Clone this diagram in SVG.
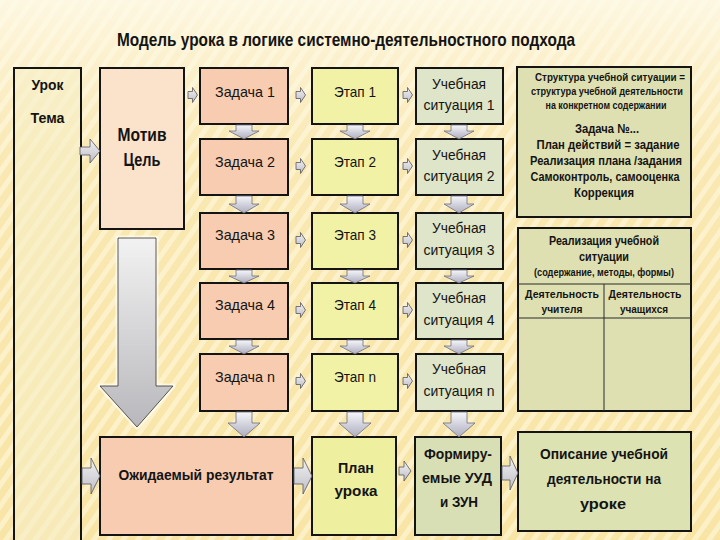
<svg xmlns="http://www.w3.org/2000/svg" width="720" height="540" viewBox="0 0 720 540">
<defs>
  <linearGradient id="bg" x1="0" y1="0" x2="0" y2="1">
    <stop offset="0" stop-color="#fdf7e2"/>
    <stop offset="0.1" stop-color="#fcf1cf"/>
    <stop offset="0.3" stop-color="#f9e8b2"/>
    <stop offset="1" stop-color="#f8e5a6"/>
  </linearGradient>
  <pattern id="stripes" patternUnits="userSpaceOnUse" width="12" height="12" patternTransform="rotate(35)">
    <rect x="0" y="0" width="5" height="12" fill="#fffbe8" opacity="0.5"/>
  </pattern>
  <linearGradient id="arrV" x1="0" y1="0" x2="0" y2="1">
    <stop offset="0" stop-color="#f6f6fb"/>
    <stop offset="1" stop-color="#aeaebf"/>
  </linearGradient>
  <linearGradient id="arrH" x1="0" y1="0" x2="0" y2="1">
    <stop offset="0" stop-color="#f4f4f4"/>
    <stop offset="1" stop-color="#bcbcc6"/>
  </linearGradient>
  <linearGradient id="bigArr" x1="0" y1="0" x2="0" y2="1">
    <stop offset="0" stop-color="#f2f2f2"/>
    <stop offset="1" stop-color="#b8b8bc"/>
  </linearGradient>
  <path id="ra" d="M0,-3.5 H4.5 V-7.5 L9.5,0 L4.5,7.5 V3.5 H0 Z"/>
  <style>
    .box{stroke:#141414;stroke-width:2}
    .uro{fill:#f6eec6;fill-opacity:0.55}
    .mot{fill:#fbe2cb}
    .zad{fill:#f8ccb0}
    .eta{fill:#f1f2a6}
    .uch{fill:#dfe5c8}
    .rgt{fill:#dfe0b2}
    .pln{fill:#eef0a0}
    .frm{fill:#d9dfb4}
    .ops{fill:#dde2b3}
    .ln{stroke:#2a2a2a;stroke-width:1;fill:none}
    .dn{fill:url(#arrV);stroke:#6e6e78;stroke-width:0.8}
    .rt{fill:url(#arrH);stroke:#55555e;stroke-width:0.8}
    .big{fill:url(#bigArr);stroke:#333;stroke-width:0.8}
    .glow{fill:none;stroke:#fffdf2;stroke-width:5;stroke-opacity:0.7;stroke-linejoin:round}
    text{font-family:"Liberation Sans","DejaVu Sans",sans-serif;fill:#141414;text-anchor:middle}
    .b{font-weight:bold}
    .ttl{font-size:18.5px;font-weight:bold}
    .c{font-size:15px}
    .s{font-size:10.5px;font-weight:bold}
    .m{font-size:13px;font-weight:bold}
    .l{font-size:15px;font-weight:bold}
  </style>
</defs>

<rect x="0" y="0" width="720" height="540" fill="url(#bg)"/>
<rect x="0" y="0" width="720" height="540" fill="url(#stripes)"/>

<text class="ttl" x="346" y="46" textLength="458" lengthAdjust="spacingAndGlyphs">Модель урока  в логике системно-деятельностного подхода</text>

<g id="urok">
  <rect class="box uro" x="14" y="68" width="67" height="480"/>
  <text class="l" x="47.5" y="90" textLength="32" lengthAdjust="spacingAndGlyphs">Урок</text>
  <text class="l" x="47.5" y="123" textLength="34" lengthAdjust="spacingAndGlyphs">Тема</text>
</g>

<g id="motiv">
  <rect class="box mot" x="100" y="68" width="84" height="161"/>
  <text class="b" style="font-size:18px" x="142" y="141" textLength="49" lengthAdjust="spacingAndGlyphs">Мотив</text>
  <text class="b" style="font-size:18px" x="142" y="166" textLength="37" lengthAdjust="spacingAndGlyphs">Цель</text>
</g>

<g id="zadachi">
  <g id="zad1"><rect class="box zad" x="200" y="68" width="88" height="56"/><text class="c" x="245" y="97" textLength="60" lengthAdjust="spacingAndGlyphs">Задача 1</text></g>
  <g id="zad2"><rect class="box zad" x="200" y="139" width="88" height="56"/><text class="c" x="245" y="167" textLength="60" lengthAdjust="spacingAndGlyphs">Задача 2</text></g>
  <g id="zad3"><rect class="box zad" x="200" y="213" width="88" height="56"/><text class="c" x="245" y="240" textLength="60" lengthAdjust="spacingAndGlyphs">Задача 3</text></g>
  <g id="zad4"><rect class="box zad" x="200" y="283" width="88" height="56"/><text class="c" x="245" y="310" textLength="60" lengthAdjust="spacingAndGlyphs">Задача 4</text></g>
  <g id="zadn"><rect class="box zad" x="200" y="354" width="88" height="57"/><text class="c" x="245" y="382" textLength="60" lengthAdjust="spacingAndGlyphs">Задача n</text></g>
</g>

<g id="etapy">
  <g id="eta1"><rect class="box eta" x="312" y="68" width="86" height="56"/><text class="c" x="355" y="97" textLength="42" lengthAdjust="spacingAndGlyphs">Этап 1</text></g>
  <g id="eta2"><rect class="box eta" x="312" y="139" width="86" height="56"/><text class="c" x="355" y="167" textLength="42" lengthAdjust="spacingAndGlyphs">Этап 2</text></g>
  <g id="eta3"><rect class="box eta" x="312" y="213" width="86" height="56"/><text class="c" x="355" y="240" textLength="42" lengthAdjust="spacingAndGlyphs">Этап 3</text></g>
  <g id="eta4"><rect class="box eta" x="312" y="283" width="86" height="56"/><text class="c" x="355" y="310" textLength="42" lengthAdjust="spacingAndGlyphs">Этап 4</text></g>
  <g id="etan"><rect class="box eta" x="312" y="354" width="86" height="57"/><text class="c" x="355" y="382" textLength="42" lengthAdjust="spacingAndGlyphs">Этап n</text></g>
</g>

<g id="situacii">
  <g id="uch1"><rect class="box uch" x="416" y="68" width="87" height="56"/><text class="c" x="459" y="89" textLength="54" lengthAdjust="spacingAndGlyphs">Учебная</text><text class="c" x="459" y="110" textLength="71" lengthAdjust="spacingAndGlyphs">ситуация 1</text></g>
  <g id="uch2"><rect class="box uch" x="416" y="139" width="87" height="56"/><text class="c" x="459" y="160" textLength="54" lengthAdjust="spacingAndGlyphs">Учебная</text><text class="c" x="459" y="181" textLength="71" lengthAdjust="spacingAndGlyphs">ситуация 2</text></g>
  <g id="uch3"><rect class="box uch" x="416" y="213" width="87" height="56"/><text class="c" x="459" y="233" textLength="54" lengthAdjust="spacingAndGlyphs">Учебная</text><text class="c" x="459" y="255" textLength="71" lengthAdjust="spacingAndGlyphs">ситуация 3</text></g>
  <g id="uch4"><rect class="box uch" x="416" y="283" width="87" height="56"/><text class="c" x="459" y="303" textLength="54" lengthAdjust="spacingAndGlyphs">Учебная</text><text class="c" x="459" y="325" textLength="71" lengthAdjust="spacingAndGlyphs">ситуация 4</text></g>
  <g id="uchn"><rect class="box uch" x="416" y="354" width="87" height="57"/><text class="c" x="459" y="374" textLength="54" lengthAdjust="spacingAndGlyphs">Учебная</text><text class="c" x="459" y="396" textLength="71" lengthAdjust="spacingAndGlyphs">ситуация n</text></g>
</g>

<g id="struktura">
  <rect class="box rgt" x="517" y="67" width="174" height="150"/>
  <text class="s" x="610" y="81" textLength="150" lengthAdjust="spacingAndGlyphs">Структура учебной ситуации =</text>
  <text class="s" x="607" y="95" textLength="152" lengthAdjust="spacingAndGlyphs">структура учебной деятельности</text>
  <text class="s" x="606" y="109" textLength="121" lengthAdjust="spacingAndGlyphs">на конкретном содержании</text>
  <text class="m" x="607" y="133" textLength="64" lengthAdjust="spacingAndGlyphs">Задача №...</text>
  <text class="m" x="608" y="149" textLength="143" lengthAdjust="spacingAndGlyphs">План действий = задание</text>
  <text class="m" x="606" y="165" textLength="152" lengthAdjust="spacingAndGlyphs">Реализация плана /задания</text>
  <text class="m" x="605" y="181" textLength="149" lengthAdjust="spacingAndGlyphs">Самоконтроль, самооценка</text>
  <text class="m" x="604" y="197" textLength="60" lengthAdjust="spacingAndGlyphs">Коррекция</text>
</g>

<g id="realizaciya">
  <rect class="box rgt" x="518" y="228" width="173" height="183"/>
  <text class="m" style="font-size:12px" x="604" y="245" textLength="110" lengthAdjust="spacingAndGlyphs">Реализация учебной</text>
  <text class="m" style="font-size:12px" x="604" y="261" textLength="50" lengthAdjust="spacingAndGlyphs">ситуации</text>
  <text class="s" style="font-size:10px" x="604" y="276" textLength="140" lengthAdjust="spacingAndGlyphs">(содержание, методы, формы)</text>
  <line class="ln" x1="518" y1="284" x2="691" y2="284"/>
  <line class="ln" x1="518" y1="318" x2="691" y2="318"/>
  <line class="ln" x1="604" y1="284" x2="604" y2="411"/>
  <text class="s" style="font-size:11px" x="562" y="298" textLength="74" lengthAdjust="spacingAndGlyphs">Деятельность</text>
  <text class="s" style="font-size:11px" x="645" y="298" textLength="73" lengthAdjust="spacingAndGlyphs">Деятельность</text>
  <text class="s" style="font-size:11px" x="562" y="313" textLength="41" lengthAdjust="spacingAndGlyphs">учителя</text>
  <text class="s" style="font-size:11px" x="644" y="313" textLength="48" lengthAdjust="spacingAndGlyphs">учащихся</text>
</g>

<g id="rezultat">
  <rect class="box zad" x="100" y="437" width="193" height="98"/>
  <text class="l" x="196" y="480" textLength="155" lengthAdjust="spacingAndGlyphs">Ожидаемый результат</text>
</g>
<g id="plan">
  <rect class="box pln" x="312" y="437" width="84" height="98"/>
  <text class="l" x="356" y="473" textLength="36" lengthAdjust="spacingAndGlyphs">План</text>
  <text class="l" x="356" y="496" textLength="43" lengthAdjust="spacingAndGlyphs">урока</text>
</g>
<g id="uud">
  <rect class="box frm" x="415" y="437" width="86" height="98"/>
  <text class="l" x="458" y="459" textLength="68" lengthAdjust="spacingAndGlyphs">Формиру-</text>
  <text class="l" x="457" y="483" textLength="70" lengthAdjust="spacingAndGlyphs">емые УУД</text>
  <text class="l" x="459" y="507" textLength="38" lengthAdjust="spacingAndGlyphs">и ЗУН</text>
</g>
<g id="opisanie">
  <rect class="box ops" x="518" y="432" width="173" height="99"/>
  <text class="l" x="604" y="459" textLength="128" lengthAdjust="spacingAndGlyphs">Описание учебной</text>
  <text class="l" x="604" y="484" textLength="114" lengthAdjust="spacingAndGlyphs">деятельности на</text>
  <text class="l" x="603" y="509" textLength="46" lengthAdjust="spacingAndGlyphs">уроке</text>
</g>

<g id="connectors">
  <path class="glow" d="M118,238 H156 V386 H173 L137,427 L100,386 H118 Z"/>
  <path class="big" d="M118,238 H156 V386 H173 L137,427 L100,386 H118 Z"/>
  <path class="rt" d="M80,147 H90 V139 L100,151 L90,163 V155 H80 Z"/>
  <path class="rt" d="M82,468 H91 V458 L100,476 L91,494 V484 H82 Z"/>
  <path class="rt" d="M294,468 H303 V458 L312,476 L303,494 V484 H294 Z"/>
  <path class="rt" d="M399,467 H404 V461 L411,471 L404,481 V475 H399 Z"/>
  <path class="rt" d="M502,466 H510 V456 L518,473 L510,490 V480 H502 Z"/>

  <use href="#ra" class="rt" x="188" y="95"/>
  <use href="#ra" class="rt" x="296" y="95"/>
  <use href="#ra" class="rt" x="403" y="95"/>
  <use href="#ra" class="rt" x="296" y="166"/>
  <use href="#ra" class="rt" x="403" y="166"/>
  <use href="#ra" class="rt" x="296" y="240"/>
  <use href="#ra" class="rt" x="403" y="240"/>
  <use href="#ra" class="rt" x="296" y="310"/>
  <use href="#ra" class="rt" x="403" y="310"/>
  <use href="#ra" class="rt" x="296" y="381"/>
  <use href="#ra" class="rt" x="403" y="381"/>

  <path class="dn" d="M236,125 H252 V131 H259 L244,139 L229,131 H236 Z"/>
  <path class="dn" d="M347,125 H363 V131 H370 L355,139 L340,131 H347 Z"/>
  <path class="dn" d="M451,125 H467 V131 H474 L459,139 L444,131 H451 Z"/>

  <path class="dn" d="M236,196 H252 V204 H259 L244,213 L229,204 H236 Z"/>
  <path class="dn" d="M347,196 H363 V204 H370 L355,213 L340,204 H347 Z"/>
  <path class="dn" d="M451,196 H467 V204 H474 L459,213 L444,204 H451 Z"/>

  <path class="dn" d="M236,270 H252 V276 H259 L244,283 L229,276 H236 Z"/>
  <path class="dn" d="M347,270 H363 V276 H370 L355,283 L340,276 H347 Z"/>
  <path class="dn" d="M451,270 H467 V276 H474 L459,283 L444,276 H451 Z"/>

  <path class="dn" d="M236,340 H252 V346 H259 L244,354 L229,346 H236 Z"/>
  <path class="dn" d="M347,340 H363 V346 H370 L355,354 L340,346 H347 Z"/>
  <path class="dn" d="M451,340 H467 V346 H474 L459,354 L444,346 H451 Z"/>

  <path class="dn" d="M236,412 H252 V423 H260 L244,437 L228,423 H236 Z"/>
  <path class="dn" d="M347,412 H363 V423 H371 L355,437 L339,423 H347 Z"/>
  <path class="dn" d="M451,412 H467 V423 H475 L459,437 L443,423 H451 Z"/>
</g>
</svg>
